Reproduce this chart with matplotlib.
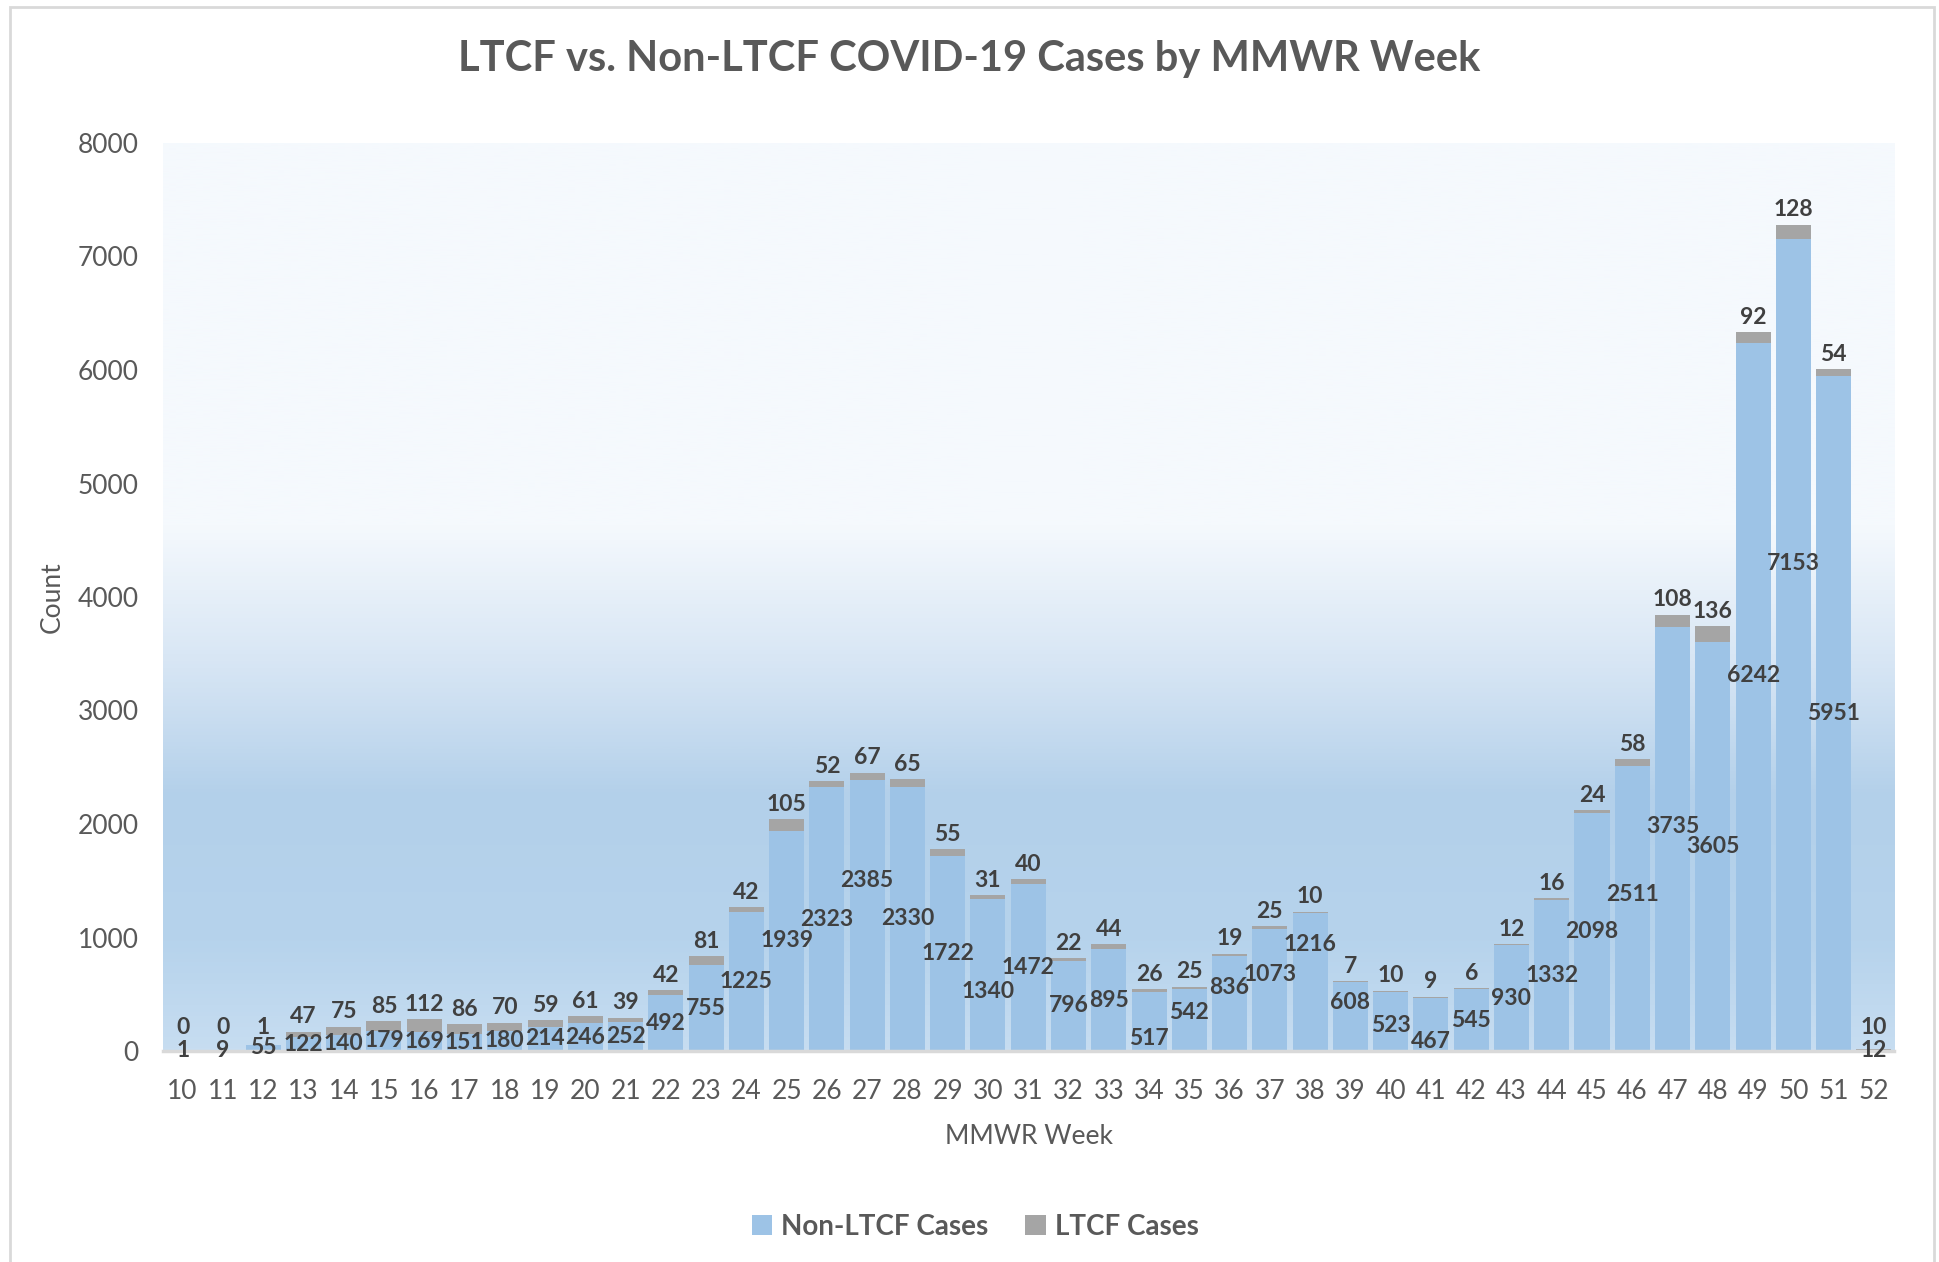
import matplotlib.pyplot as plt
import numpy as np
from matplotlib.colors import LinearSegmentedColormap
from matplotlib.patches import Rectangle

# data
WEEKS = list(range(10, 53))
NON_LTCF = [1, 9, 55, 122, 140, 179, 169, 151, 180, 214, 246, 252, 492, 755, 1225,
            1939, 2323, 2385, 2330, 1722, 1340, 1472, 796, 895, 517, 542, 836, 1073,
            1216, 608, 523, 467, 545, 930, 1332, 2098, 2511, 3735, 3605, 6242, 7153,
            5951, 12]
LTCF = [0, 0, 1, 47, 75, 85, 112, 86, 70, 59, 61, 39, 42, 81, 42, 105, 52, 67, 65,
        55, 31, 40, 22, 44, 26, 25, 19, 25, 10, 7, 10, 9, 6, 12, 16, 24, 58, 108,
        136, 92, 128, 54, 10]

# where the Non-LTCF labels sit along the bar (fraction of height), default is middle
LABEL_FRAC = {27: 0.63, 30: 0.39, 34: 0.22, 35: 0.62, 36: 0.67, 37: 0.63, 38: 0.77,
              39: 0.70, 40: 0.43, 41: 0.18, 46: 0.55, 47: 0.53, 49: 0.53, 50: 0.60}

BLUE = '#9DC3E6'
GREY = '#A5A5A5'
TEXT = '#595959'
LABEL = '#404040'

plt.rcParams['font.family'] = ['Lato', 'DejaVu Sans']

W, H = 1939, 1262
fig = plt.figure(figsize=(W / 100, H / 100), dpi=100)
ax = fig.add_axes([162.5 / W, 1 - 1051 / H, (1894 - 162.5) / W, (1051 - 143) / H])

x = np.arange(len(WEEKS))
non = np.array(NON_LTCF)
ltcf = np.array(LTCF)

# plot area gradient background
stops = [(0.0, '#C7DDF1'), (0.12, '#B6D3EC'), (0.28, '#B3D0EA'),
         (0.42, '#D6E5F4'), (0.58, '#F5F9FD'), (1.0, '#F5F9FD')]
cmap = LinearSegmentedColormap.from_list('bg', stops)
grad = np.linspace(0, 1, 512).reshape(-1, 1)
ax.imshow(grad, aspect='auto', cmap=cmap, origin='lower',
          extent=[-0.5, len(WEEKS) - 0.5, 0, 8000], zorder=0)

ax.bar(x, non, width=0.87, color=BLUE, zorder=2, label='Non-LTCF Cases')
ax.bar(x, ltcf, bottom=non, width=0.87, color=GREY, zorder=2, label='LTCF Cases')

# data labels
px_per_unit = (1051 - 143) / 8000
for i, wk in enumerate(WEEKS):
    frac = LABEL_FRAC.get(wk, 0.5)
    ax.text(x[i], non[i] * frac, str(non[i]), ha='center', va='center',
            fontsize=16.5, fontweight='bold', color=LABEL, zorder=5)
    top = non[i] + ltcf[i]
    ytxt = max(top + 15 / px_per_unit, 24 / px_per_unit)
    ax.text(x[i], ytxt, str(ltcf[i]), ha='center', va='center',
            fontsize=16.5, fontweight='bold', color=LABEL, zorder=5)

ax.set_xlim(-0.5, len(WEEKS) - 0.5)
ax.set_ylim(0, 8000)
ax.set_xticks(x)
ax.set_xticklabels([str(w) for w in WEEKS])
ax.set_yticks(np.arange(0, 8001, 1000))
ax.tick_params(axis='both', length=0, labelsize=19, labelcolor=TEXT)
ax.tick_params(axis='x', pad=20)
ax.tick_params(axis='y', pad=17)
for s in ['top', 'right', 'left']:
    ax.spines[s].set_visible(False)
ax.spines['bottom'].set_color('#D9D9D9')
ax.spines['bottom'].set_linewidth(2.5)
ax.spines['bottom'].set_zorder(3)

fig.text(0.5, 1 - 59 / H, 'LTCF vs. Non-LTCF COVID-19 Cases by MMWR Week',
         ha='center', va='center', fontsize=30, fontweight='bold', color=TEXT)
fig.text(52 / W, 1 - 597 / H, 'Count', rotation=90, ha='center', va='center',
         fontsize=19, color=TEXT)
fig.text(1029 / W, 1 - 1136 / H, 'MMWR Week', ha='center', va='center',
         fontsize=19, color=TEXT)

fig.legend(loc='center', bbox_to_anchor=(975 / W, 1 - 1227 / H), ncol=2,
           frameon=False, handlelength=0.75, handleheight=0.75, handletextpad=0.3,
           columnspacing=1.35, prop={'size': 20, 'weight': 'bold'}, labelcolor=TEXT)

# light outer border of the chart
fig.patches.append(Rectangle((10 / W, -0.01), (1934 - 10) / W, 1.01 - 7 / H,
                             transform=fig.transFigure, fill=False,
                             edgecolor='#D9D9D9', linewidth=2))

fig.savefig('out.png', dpi=100)
